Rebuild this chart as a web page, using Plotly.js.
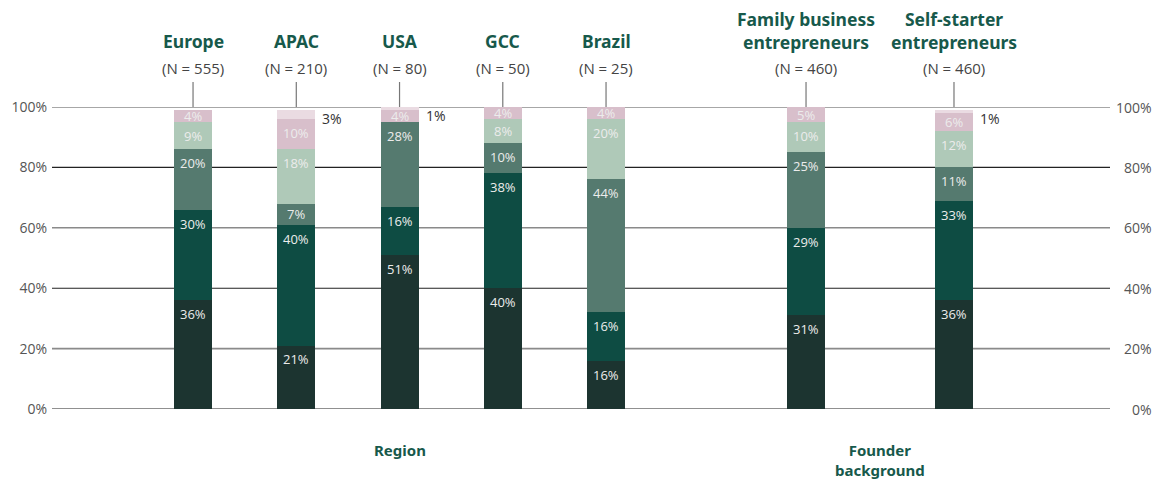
<!DOCTYPE html>
<html>
<head>
<meta charset="utf-8">
<script src="https://cdn.plot.ly/plotly-3.0.1.min.js"></script>
<style>html,body{margin:0;padding:0;background:#fff;}#chart{width:1160px;height:479px;}</style>
</head>
<body>
<div id="chart"></div>
<script>
// ---- data ----
const groups = ['Europe', 'APAC', 'USA', 'GCC', 'Brazil', 'Family business<br>entrepreneurs', 'Self-starter<br>entrepreneurs'];
const sampleSizes = ['(N = 555)', '(N = 210)', '(N = 80)', '(N = 50)', '(N = 25)', '(N = 460)', '(N = 460)'];
const slots = [1, 2, 3, 4, 5, 6.937, 8.37];
const seg1 = [36, 21, 51, 40, 16, 31, 36];
const seg2 = [30, 40, 16, 38, 16, 29, 33];
const seg3 = [20, 7, 28, 10, 44, 25, 11];
const seg4 = [9, 18, 0, 8, 20, 10, 12];
const seg5 = [4, 10, 4, 4, 4, 5, 6];
const seg6 = [0, 3, 1, 0, 0, 1, 1];
const sectionLabels = ['Region', 'Founder<br>background'];
const sectionSlots = [3, (6.937 + 8.37) / 2];
const yTicks = [0, 20, 40, 60, 80, 100];

const colors = ['#1c3430', '#0e4c43', '#557a6f', '#afc9b8', '#d8bfcb', '#eadbe2'];
const series = [seg1, seg2, seg3, seg4, seg5, seg6];

const traces = series.map((s, i) => ({
  type: 'bar',
  x: slots,
  y: s,
  width: 0.368,
  marker: {color: colors[i], line: {width: 0}},
  hoverinfo: 'skip',
  showlegend: false
}));

const shapes = [];
const annotations = [];
// grid lines: alternating gray / dark
yTicks.forEach((t, i) => {
  const gray = (i % 2 === 1);
  shapes.push({type: 'line', xref: 'paper', yref: 'y', x0: 0, x1: 1, y0: t, y1: t,
    line: {color: gray ? '#8a8a8a' : '#222', width: gray ? 1.6 : 1.1}, layer: 'below'});
  annotations.push({xref: 'paper', yref: 'y', x: 1, y: t, xanchor: 'right', yanchor: 'middle',
    xshift: 44, showarrow: false, text: t + '%', font: {family: 'Open Sans, sans-serif', size: 14, color: '#555'}});
});
// segment value labels (inside, near the top of each segment)
slots.forEach((x, j) => {
  let base = 0;
  for (let i = 0; i < 5; i++) {
    const v = series[i][j];
    if (v > 0) {
      const top = base + v;
      annotations.push({xref: 'x', yref: 'y', x: x, y: top - Math.min(v / 2, 4.6), yanchor: 'middle',
        showarrow: false, text: v + '%', font: {family: 'Open Sans, sans-serif', size: 13, color: '#ececec'}});
    }
    base += v;
  }
});
// headers + connectors
groups.forEach((g, i) => {
  const twoLine = g.indexOf('<br>') >= 0;
  annotations.push({xref: 'x', yref: 'paper', x: slots[i], y: 1, yanchor: 'bottom', yshift: twoLine ? 51 : 52,
    showarrow: false, text: '<b>' + g + '</b>', align: 'center',
    font: {family: 'Noto Sans, sans-serif', size: 17.5, color: '#17594b'}});
  annotations.push({xref: 'x', yref: 'paper', x: slots[i], y: 1, yanchor: 'middle', yshift: 39,
    showarrow: false, text: sampleSizes[i], font: {family: 'Open Sans, sans-serif', size: 15, color: '#444'}});
  shapes.push({type: 'line', xref: 'x', yref: 'paper', x0: slots[i], x1: slots[i], y0: 1, y1: 1 + 25 / 302,
    line: {color: '#777', width: 1.2}});
  // outside label for top segment
  if (seg6[i] > 0) {
    const total = seg1[i] + seg2[i] + seg3[i] + seg4[i] + seg5[i] + seg6[i];
    annotations.push({xref: 'x', yref: 'y', x: slots[i], y: total, xanchor: 'left', yanchor: 'top',
      xshift: 24, yshift: 3, showarrow: false, text: seg6[i] + '%', font: {family: 'Open Sans, sans-serif', size: 14, color: '#333'}});
  }
});
sectionLabels.forEach((s, i) => {
  annotations.push({xref: 'x', yref: 'paper', x: sectionSlots[i], y: 0, yanchor: 'top', yshift: -30,
    showarrow: false, borderpad: 0, text: '<b>' + s + '</b>', align: 'center',
    font: {family: 'Noto Sans, sans-serif', size: 15, color: '#17594b'}});
});

const layout = {
  width: 1160, height: 479,
  margin: {l: 52, r: 50, t: 107, b: 70},
  paper_bgcolor: '#fff', plot_bgcolor: 'rgba(0,0,0,0)',
  barmode: 'stack',
  xaxis: {range: [-0.366, 9.881], showgrid: false, zeroline: false, showticklabels: false, ticks: '', fixedrange: true},
  yaxis: {range: [0, 100], tickvals: yTicks, ticktext: yTicks.map(t => t + '%'), showgrid: false, zeroline: false,
    ticks: '', ticklabelstandoff: 4, tickfont: {family: 'Open Sans, sans-serif', size: 14, color: '#555'}},
  shapes: shapes,
  annotations: annotations
};

Plotly.newPlot('chart', traces, layout, {displayModeBar: false, staticPlot: true});
</script>
</body>
</html>
